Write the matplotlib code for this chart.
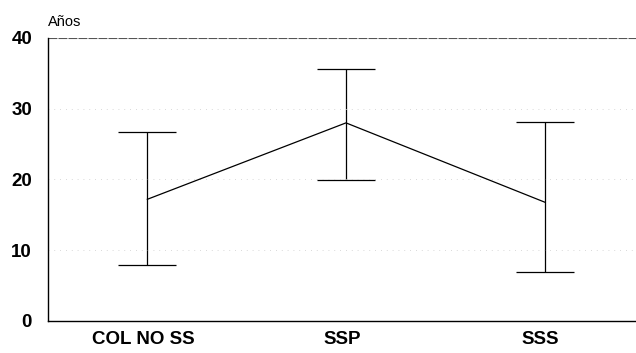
import numpy as np
import matplotlib
matplotlib.use("Agg")
import matplotlib.pyplot as plt
import matplotlib.transforms as mtransforms

plt.rcParams['font.family'] = ['Liberation Sans', 'DejaVu Sans']

groups = ['COL NO SS', 'SSP', 'SSS']
means = [17.2, 28.0, 16.8]
upper = [26.7, 35.6, 28.1]
lower = [7.9, 19.9, 6.9]

x = np.arange(len(groups))
err = [np.array(means) - np.array(lower), np.array(upper) - np.array(means)]

fig = plt.figure(figsize=(6.36, 3.53), dpi=100)
ax = fig.add_axes([0.0755, 0.0907, 0.9245, 0.8017])

ax.errorbar(x, means, yerr=err, color='k', linewidth=0.9, elinewidth=0.9,
            capsize=21, capthick=0.9)

ax.set_xlim(-0.5, 2.46)
ax.set_ylim(0, 40)
ax.set_yticks([0, 10, 20, 30, 40])
ax.set_xticks(x)
ax.set_xticklabels(groups)
ax.tick_params(axis='both', length=0, labelsize=13.5)
ax.tick_params(axis='y', pad=11.5)
ax.tick_params(axis='x', pad=7)
shift = mtransforms.ScaledTranslation(-4 / 100, 0, fig.dpi_scale_trans)
for lab in ax.get_xticklabels():
    lab.set_fontweight('bold')
    lab.set_transform(lab.get_transform() + shift)
for lab in ax.get_yticklabels():
    lab.set_fontweight('bold')

for yv in [10, 20, 30]:
    ax.axhline(yv, color='#cccccc', linewidth=0.6, linestyle=(0, (1, 6)))
ax.axhline(40, color='#555555', linewidth=0.8, linestyle=(0, (8, 1)))

ax.spines['top'].set_visible(False)
ax.spines['right'].set_visible(False)
ax.spines['left'].set_linewidth(1.0)
ax.spines['bottom'].set_linewidth(1.0)

fig.text(0.0755, 0.918, 'Años', fontsize=10.5, ha='left', va='bottom')

fig.savefig('out.png', dpi=100)
